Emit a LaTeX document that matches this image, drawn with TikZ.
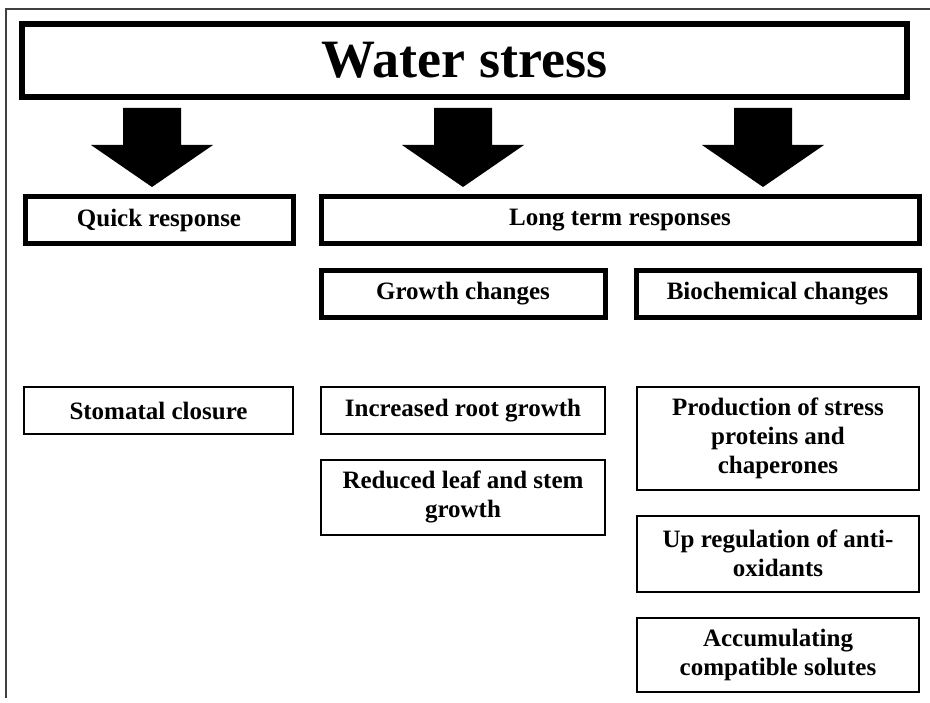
\documentclass[tikz,border=0pt]{standalone}
\usepackage{fontspec}
\setmainfont{Liberation Serif}
\usetikzlibrary{positioning}

\begin{document}
\begin{tikzpicture}[x=1pt, y=-1pt,
		head/.style={draw, line width=5.5pt, minimum width=885pt, minimum height=73pt,
			inner sep=0pt, font=\fontsize{54}{60}\selectfont\bfseries},
		main/.style={draw, line width=5pt, minimum height=47pt, inner sep=0pt,
			align=center, font=\fontsize{25}{29}\selectfont\bfseries},
		sub/.style={draw, line width=1.8pt, inner sep=0pt, align=center,
			font=\fontsize{25}{29}\selectfont\bfseries},
		blk/.style={fill=black}]
		\useasboundingbox (0,0) rectangle (930,703);
		\draw[line width=1.5pt, black!75] (6,698) -- (6,9) -- (930,9);
		\node[head] (ws) at (464.5,60.5) {Water stress};
		\node[main, minimum width=268pt] (qr) at (159,220.5) {Quick response};
		\node[main, minimum width=598pt] (lt) at (620,220.5) {Long term responses};
		\node[main, minimum width=284pt] (gc) at (463,294) {Growth changes};
		\node[main, minimum width=283pt] (bc) at (777.5,294) {Biochemical changes};
		\node[sub, minimum width=269pt, minimum height=47pt] (sc) at (158.5,410.5) {Stomatal closure};
		\node[sub, minimum width=284pt, minimum height=47pt] (rg) at (463,410.5) {Increased root growth};
		\node[sub, minimum width=284pt, minimum height=75pt, below=24pt of rg] (ls)
			{Reduced leaf and stem\\growth};
		\node[sub, minimum width=282pt, minimum height=103pt] (sp) at (778,438.5)
			{Production of stress\\proteins and\\chaperones};
		\node[sub, minimum width=282pt, minimum height=76pt, below=24pt of sp] (ao)
			{Up regulation of anti-\\oxidants};
		\node[sub, minimum width=282pt, minimum height=74pt, below=24pt of ao] (cs)
			{Accumulating\\compatible solutes};
		\foreach \c in {152,463,763}
			\fill[blk] (\c-29,108) -- (\c+29,108) -- (\c+29,145) -- (\c+61,145)
				-- (\c,187) -- (\c-61,145) -- (\c-29,145) -- cycle;
	\end{tikzpicture}
\end{document}
